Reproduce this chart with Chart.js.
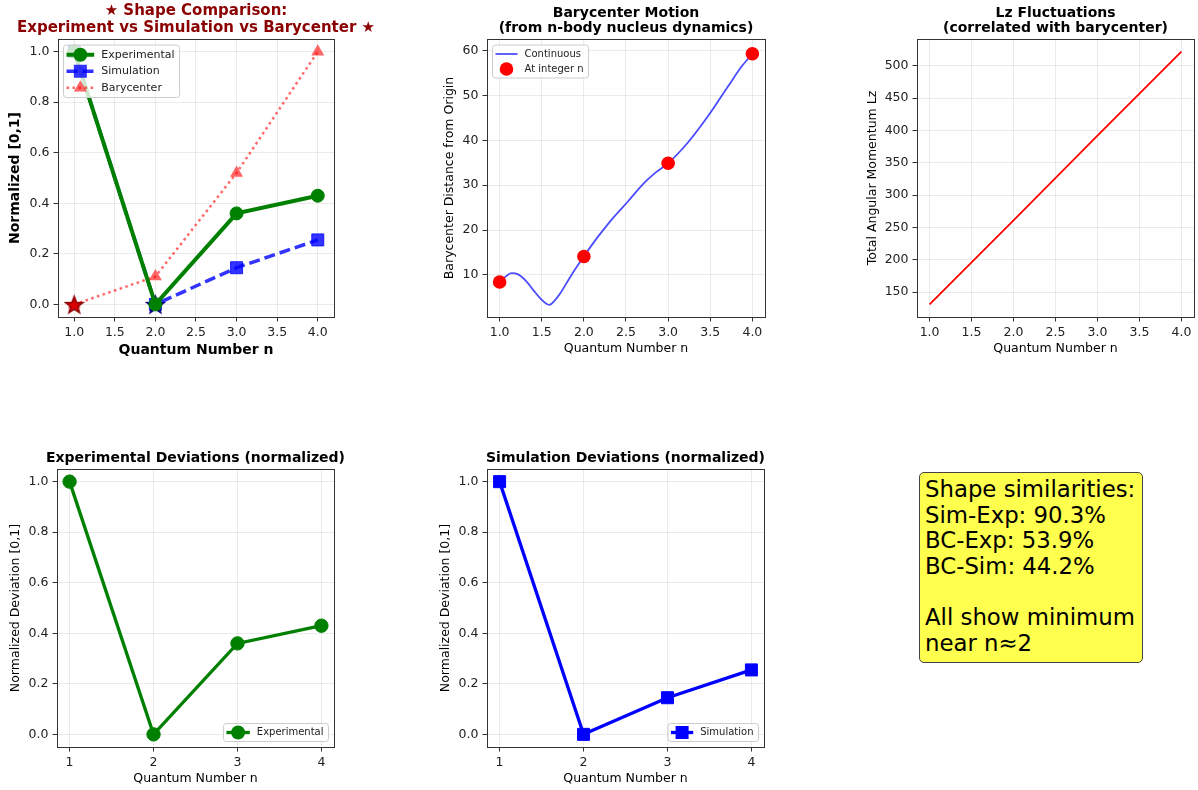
<!DOCTYPE html>
<html>
<head>
<meta charset="utf-8">
<script src="https://cdn.jsdelivr.net/npm/chart.js@4.4.1/dist/chart.umd.min.js"></script>
<style>
  body { margin: 0; background: #fff; }
  #page { position: relative; width: 1198px; height: 790px; overflow: hidden; font-family: "DejaVu Sans", sans-serif; }
  #page canvas { position: absolute; }
  #note {
    position: absolute; left: 919px; top: 472px; width: 217px; height: 185px;
    padding: 4px 0 0 5px; box-sizing: content-box;
    background: rgb(255, 255, 77); border: 1px solid #444; border-radius: 5px;
    font-size: 22.8px; line-height: 25.6px; white-space: pre; color: #000;
  }
</style>
</head>
<body>
<div id="page">
  <canvas id="shape-chart"></canvas>
  <canvas id="motion-chart"></canvas>
  <canvas id="lz-chart"></canvas>
  <canvas id="exp-chart"></canvas>
  <canvas id="sim-chart"></canvas>
  <div id="note">Shape similarities:
Sim-Exp: 90.3%
BC-Exp: 53.9%
BC-Sim: 44.2%

All show minimum
near n≈2</div>
</div>
<script>
// Quantum numbers and normalized deviations
const nValues = [1, 2, 3, 4];
const expNorm = [1.0, 0.0, 0.36, 0.43];
const simNorm = [1.0, 0.0, 0.145, 0.255];
const bcNorm = [0.0, 0.11, 0.52, 1.0];

// Minima markers (n, value)
const simMin = [2, 0.0];
const bcMin = [1, 0.0];

// Barycenter distance at integer n and along the continuous path
const bcDist = [8.4, 14.1, 34.9, 59.3];
const pathN = [1.0, 1.07, 1.14, 1.22, 1.32, 1.4, 1.48, 1.55, 1.59, 1.65, 1.72, 1.84, 1.92,
               2.0, 2.1, 2.2, 2.36, 2.52, 2.71, 2.85, 3.0, 3.23, 3.47, 3.71, 3.87, 4.0];
const pathDist = [8.4, 9.6, 10.4, 10.1, 8.5, 6.6, 4.8, 3.6, 3.3, 4.2, 5.9, 9.6, 11.9,
                  14.1, 16.8, 19.3, 23.0, 26.3, 30.4, 32.8, 34.9, 39.4, 45.3, 52.0, 56.4, 59.3];

// Total angular momentum
const lzValues = [131, 261, 392, 522];

// Tick labels
const halfTicks = [1.0, 1.5, 2.0, 2.5, 3.0, 3.5, 4.0];
const intTicks = [1, 2, 3, 4];
const normTicks = [0.0, 0.2, 0.4, 0.6, 0.8, 1.0];
const distTicks = [10, 20, 30, 40, 50, 60];
const lzTicks = [150, 200, 250, 300, 350, 400, 450, 500];

const FONT = 'DejaVu Sans';
Chart.defaults.font.family = FONT;

const pts = (xs, ys) => xs.map((x, i) => ({ x: x, y: ys[i] }));

// Filled five-point star used as a marker
function starImage(size, fill, edge) {
  const c = document.createElement('canvas');
  c.width = c.height = size;
  const g = c.getContext('2d');
  const cx = size / 2, cy = size / 2 + 1, R = size / 2 - 1.5, r = R * 0.42;
  g.beginPath();
  for (let k = 0; k < 10; k++) {
    const a = -Math.PI / 2 + k * Math.PI / 5;
    const rad = k % 2 ? r : R;
    g.lineTo(cx + rad * Math.cos(a), cy + rad * Math.sin(a));
  }
  g.closePath();
  g.fillStyle = fill;
  g.fill();
  g.lineWidth = 1.5;
  g.strokeStyle = edge;
  g.stroke();
  return c;
}

function drawMarker(ctx, kind, x, y, r, color) {
  ctx.fillStyle = color;
  ctx.beginPath();
  if (kind === 'circle') {
    ctx.arc(x, y, r, 0, Math.PI * 2);
  } else if (kind === 'rect') {
    const s = r * Math.SQRT1_2 + 0.5;
    ctx.rect(x - s, y - s, 2 * s, 2 * s);
  } else if (kind === 'triangle') {
    for (let k = 0; k < 3; k++) {
      const a = k * 2 * Math.PI / 3;
      ctx.lineTo(x + Math.sin(a) * r, y - Math.cos(a) * r);
    }
    ctx.closePath();
  }
  ctx.fill();
}

// Box around the plot area, drawn over the data
const axesFrame = {
  id: 'axesFrame',
  afterDatasetsDraw(chart) {
    const { ctx, chartArea: a } = chart;
    ctx.save();
    ctx.strokeStyle = '#333';
    ctx.lineWidth = 1;
    const l = Math.round(a.left) + 0.5, t = Math.round(a.top) + 0.5;
    ctx.strokeRect(l, t, Math.round(a.right) - Math.round(a.left), Math.round(a.bottom) - Math.round(a.top));
    ctx.restore();
  }
};

// Title centred over the plot area (may run wider than the plot)
const panelTitle = {
  id: 'panelTitle',
  afterDraw(chart, args, o) {
    if (!o.text) return;
    const { ctx, chartArea: a } = chart;
    ctx.save();
    ctx.font = 'bold ' + o.size + 'px ' + FONT;
    ctx.fillStyle = o.color || '#000';
    ctx.textAlign = 'center';
    ctx.textBaseline = 'middle';
    o.text.forEach((t, i) => ctx.fillText(t, (a.left + a.right) / 2, o.mid + i * o.lineHeight));
    ctx.restore();
  }
};

// Legend drawn inside the plot area
const boxLegend = {
  id: 'boxLegend',
  afterDraw(chart, args, opts) {
    if (!opts.items) return;
    const { ctx, chartArea: a } = chart;
    ctx.save();
    ctx.font = opts.size + 'px ' + FONT;
    const textW = Math.max(...opts.items.map(it => ctx.measureText(it.label).width));
    const rowH = opts.size * 1.5;
    const w = 3 + opts.handle + 7 + textW + 5;
    const h = opts.items.length * rowH + 3;
    const x = opts.corner === 'tl' ? a.left + 5.5 : a.right - 5.5 - w;
    const y = opts.corner === 'tl' ? a.top + 6 : a.bottom - 5.5 - h;
    ctx.beginPath();
    ctx.roundRect(x, y, w, h, 3);
    ctx.fillStyle = 'rgba(255,255,255,0.8)';
    ctx.fill();
    ctx.strokeStyle = '#cccccc';
    ctx.lineWidth = 1;
    ctx.stroke();
    opts.items.forEach((it, i) => {
      const cy = y + 1.5 + rowH * (i + 0.5);
      const hx = x + 3;
      if (it.lineWidth) {
        ctx.save();
        ctx.setLineDash(it.dash || []);
        ctx.lineWidth = it.lineWidth;
        ctx.strokeStyle = it.color;
        ctx.beginPath();
        ctx.moveTo(hx, cy);
        ctx.lineTo(hx + opts.handle, cy);
        ctx.stroke();
        ctx.restore();
      }
      if (it.marker) drawMarker(ctx, it.marker, hx + opts.handle / 2, cy, it.radius, it.color);
      ctx.fillStyle = '#222';
      ctx.textBaseline = 'middle';
      ctx.fillText(it.label, hx + opts.handle + 7, cy);
    });
    ctx.restore();
  }
};

function axis(dir, a, size) {
  return {
    type: 'linear',
    min: a.min,
    max: a.max,
    afterBuildTicks: s => { s.ticks = a.ticks.map(v => ({ value: v })); },
    afterFit: s => {
      if (dir === 'x') s.height = size; else s.width = size;
      s.paddingLeft = s.paddingRight = s.paddingTop = s.paddingBottom = 0;
    },
    grid: { color: 'rgba(0,0,0,0.1)', lineWidth: 0.8, tickLength: 4.5, tickColor: '#333', tickWidth: 1 },
    border: { display: false },
    ticks: {
      color: '#222', padding: 4, maxRotation: 0, autoSkip: false,
      font: { family: FONT, size: 12.5 },
      callback: v => v.toFixed(a.digits)
    },
    title: {
      display: true, text: a.label, color: '#000', padding: 0,
      font: { family: FONT, size: a.bold ? 14 : 12.5, weight: a.bold ? 'bold' : 'normal', lineHeight: 1.2 }
    }
  };
}

// box: canvas [x, y, w, h] on the page, area: plot area [left, top, right, bottom]
function panel(id, box, area, o) {
  const cv = document.getElementById(id);
  cv.width = box[2];
  cv.height = box[3];
  cv.style.left = box[0] + 'px';
  cv.style.top = box[1] + 'px';
  return new Chart(cv, {
    type: 'line',
    data: { datasets: o.datasets },
    plugins: [axesFrame, panelTitle, boxLegend],
    options: {
      responsive: false,
      animation: false,
      events: [],
      layout: {
        padding: {
          left: area[0] - box[0] - o.yW,
          right: box[0] + box[2] - area[2],
          top: area[1] - box[1],
          bottom: box[1] + box[3] - area[3] - o.xH
        }
      },
      plugins: {
        legend: { display: false },
        tooltip: { enabled: false },
        title: { display: false },
        panelTitle: {
          text: o.title, color: o.titleColor, size: o.titleSize,
          lineHeight: o.titleGap, mid: o.titleMid - box[1]
        },
        boxLegend: o.legend || {}
      },
      scales: {
        x: axis('x', o.x, o.xH),
        y: axis('y', o.y, o.yW)
      }
    }
  });
}

const GREEN = 'green';
const SIM_BLUE = 'rgba(0,0,255,0.8)';
const BC_RED = 'rgba(255,0,0,0.6)';

// Shape comparison
panel('shape-chart', [0, 0, 396, 380], [58, 39, 334, 317], {
  title: ['\u2605 Shape Comparison:', 'Experiment vs Simulation vs Barycenter \u2605'],
  titleColor: '#8b0000', titleSize: 15, titleGap: 16.7, titleMid: 11,
  yW: 51.4, xH: 41.4,
  x: { min: 0.8, max: 4.2, ticks: halfTicks, digits: 1, label: 'Quantum Number n', bold: true },
  y: { min: -0.05, max: 1.05, ticks: normTicks, digits: 1, label: 'Normalized [0,1]', bold: true },
  datasets: [
    { label: 'Experimental', data: pts(nValues, expNorm), borderColor: GREEN, borderWidth: 4,
      pointRadius: 6.5, pointBorderWidth: 1, pointBackgroundColor: GREEN, pointBorderColor: GREEN },
    { label: 'Simulation minimum', data: [{ x: simMin[0], y: simMin[1] }], showLine: false,
      pointStyle: starImage(21, '#00008b', '#000080'), pointRadius: 9 },
    { label: 'Barycenter minimum', data: [{ x: bcMin[0], y: bcMin[1] }], showLine: false,
      pointStyle: starImage(21, '#dd0000', '#8b0000'), pointRadius: 9 },
    { label: 'Simulation', data: pts(nValues, simNorm), borderColor: SIM_BLUE, borderWidth: 3.5,
      borderDash: [11, 5], pointStyle: 'rect', pointRadius: 8.5, pointBorderWidth: 1,
      pointBackgroundColor: SIM_BLUE, pointBorderColor: SIM_BLUE },
    { label: 'Barycenter', data: pts(nValues, bcNorm), borderColor: BC_RED, borderWidth: 2.5,
      borderDash: [2.5, 3.5], pointStyle: 'triangle', pointRadius: 7.5, pointBorderWidth: 0,
      pointBackgroundColor: BC_RED, pointBorderColor: BC_RED }
  ],
  legend: {
    corner: 'tl', size: 11, handle: 27.7,
    items: [
      { label: 'Experimental', color: GREEN, lineWidth: 4, marker: 'circle', radius: 7 },
      { label: 'Simulation', color: SIM_BLUE, lineWidth: 3.5, dash: [11, 5], marker: 'rect', radius: 8.5 },
      { label: 'Barycenter', color: BC_RED, lineWidth: 2.5, dash: [2.5, 3.5], marker: 'triangle', radius: 7.5 }
    ]
  }
});

// Barycenter motion
panel('motion-chart', [400, 0, 380, 380], [487, 39, 765, 317], {
  title: ['Barycenter Motion', '(from n-body nucleus dynamics)'],
  titleSize: 14, titleGap: 15.6, titleMid: 13,
  yW: 44.5, xH: 39.5,
  x: { min: 0.85, max: 4.15, ticks: halfTicks, digits: 1, label: 'Quantum Number n' },
  y: { min: 0.6, max: 62.6, ticks: distTicks, digits: 0, label: 'Barycenter Distance from Origin' },
  datasets: [
    { label: 'At integer n', data: pts(nValues, bcDist), showLine: false, pointRadius: 6.8,
      pointBorderWidth: 0, pointBackgroundColor: 'red', pointBorderColor: 'red' },
    { label: 'Continuous', data: pts(pathN, pathDist), borderColor: 'rgba(0,0,255,0.7)', borderWidth: 1.8,
      pointRadius: 0, cubicInterpolationMode: 'monotone' }
  ],
  legend: {
    corner: 'tl', size: 10, handle: 22,
    items: [
      { label: 'Continuous', color: 'rgba(0,0,255,0.7)', lineWidth: 1.8 },
      { label: 'At integer n', color: 'red', marker: 'circle', radius: 6.8 }
    ]
  }
});

// Angular momentum
panel('lz-chart', [820, 0, 378, 380], [917, 39, 1194, 317], {
  title: ['Lz Fluctuations', '(correlated with barycenter)'],
  titleSize: 14, titleGap: 15.3, titleMid: 13,
  yW: 52, xH: 39.5,
  x: { min: 0.85, max: 4.15, ticks: halfTicks, digits: 1, label: 'Quantum Number n' },
  y: { min: 111.45, max: 541.55, ticks: lzTicks, digits: 0, label: 'Total Angular Momentum Lz' },
  datasets: [
    { label: 'Lz', data: pts(nValues, lzValues), borderColor: 'red', borderWidth: 1.8, pointRadius: 0 }
  ]
});

// Experimental deviations
panel('exp-chart', [0, 440, 370, 350], [57, 469, 334, 747], {
  title: ['Experimental Deviations (normalized)'],
  titleSize: 14, titleGap: 15.6, titleMid: 458.5,
  yW: 48.7, xH: 39.5,
  x: { min: 0.85, max: 4.15, ticks: intTicks, digits: 0, label: 'Quantum Number n' },
  y: { min: -0.05, max: 1.05, ticks: normTicks, digits: 1, label: 'Normalized Deviation [0,1]' },
  datasets: [
    { label: 'Experimental', data: pts(nValues, expNorm), borderColor: GREEN, borderWidth: 3.3,
      pointRadius: 6.7, pointBorderWidth: 1, pointBackgroundColor: GREEN, pointBorderColor: GREEN }
  ],
  legend: {
    corner: 'br', size: 10, handle: 23.4,
    items: [{ label: 'Experimental', color: GREEN, lineWidth: 3.3, marker: 'circle', radius: 7 }]
  }
});

// Simulation deviations
panel('sim-chart', [420, 440, 370, 350], [487, 469, 764, 747], {
  title: ['Simulation Deviations (normalized)'],
  titleSize: 14, titleGap: 15.6, titleMid: 458.5,
  yW: 48.7, xH: 39.5,
  x: { min: 0.85, max: 4.15, ticks: intTicks, digits: 0, label: 'Quantum Number n' },
  y: { min: -0.05, max: 1.05, ticks: normTicks, digits: 1, label: 'Normalized Deviation [0,1]' },
  datasets: [
    { label: 'Simulation', data: pts(nValues, simNorm), borderColor: 'blue', borderWidth: 3.3,
      pointStyle: 'rect', pointRadius: 8.5, pointBorderWidth: 1, pointBackgroundColor: 'blue', pointBorderColor: 'blue' }
  ],
  legend: {
    corner: 'br', size: 10, handle: 22.3,
    items: [{ label: 'Simulation', color: 'blue', lineWidth: 3.3, marker: 'rect', radius: 8.5 }]
  }
});
</script>
</body>
</html>
